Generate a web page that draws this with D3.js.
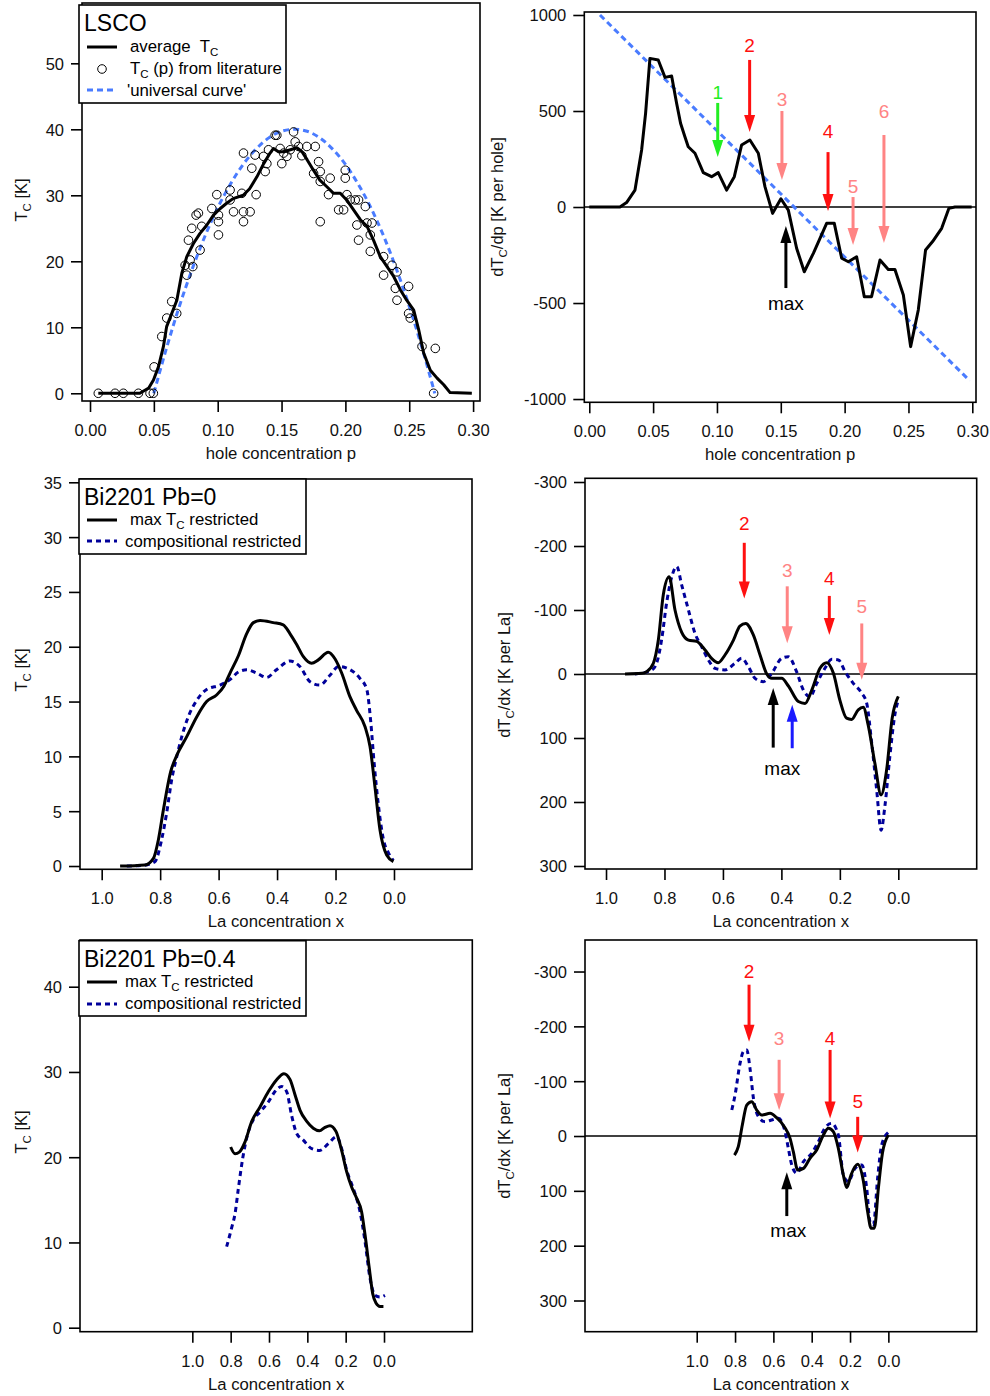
<!DOCTYPE html>
<html>
<head>
<meta charset="utf-8">
<script src="https://cdn.jsdelivr.net/npm/d3@7"></script>
<style>
body { margin: 0; background: #fff; }
svg { display: block; font-family: "Liberation Sans", Arial, sans-serif; }
</style>
</head>
<body>
<script>
// ---- LSCO: Tc(p) and dTc/dp ----
var lscoAverage = [[0.0065,0],[0.039,0],[0.046,0.8],[0.0497,2],[0.0536,4],[0.0575,7.1],[0.060,10.1],[0.064,12.1],[0.068,14.1],[0.0719,18.2],[0.0758,20.7],[0.081,22.7],[0.086,24.2],[0.0915,25.5],[0.0967,27],[0.102,28],[0.107,28.8],[0.112,29.5],[0.120,30],[0.125,31],[0.1307,32.8],[0.136,34.8],[0.141,36.4],[0.1437,37.1],[0.1476,36.6],[0.1516,36.6],[0.157,36.9],[0.162,37.2],[0.166,36.6],[0.170,35.4],[0.175,33.8],[0.180,32.3],[0.1855,31.3],[0.1907,30.3],[0.196,30.3],[0.201,29.3],[0.2064,27.8],[0.2117,26.3],[0.217,25.3],[0.222,23.2],[0.2273,20.7],[0.2326,19.2],[0.2378,17.7],[0.243,15.7],[0.248,14.1],[0.2535,12.6],[0.2574,9.6],[0.2613,6.1],[0.2665,3.5],[0.2718,2.3],[0.277,1.3],[0.282,0.1],[0.299,0]];

var lscoLiterature = [[0.0065,0],[0.0196,0],[0.0261,0],[0.0379,0],[0.0470,0],[0.0496,0],[0.0502,4.0],[0.0562,8.6],[0.0601,11.4],[0.0640,13.9],[0.0679,12.1],[0.0745,19.4],[0.0758,17.9],[0.0784,20.2],[0.0805,19.2],[0.0771,23.2],[0.0797,25.0],[0.0831,27.0],[0.0849,27.3],[0.0862,21.7],[0.0875,25.3],[0.0954,28.0],[0.0993,30.1],[0.1006,27.0],[0.1006,26.0],[0.1006,24.0],[0.1097,30.8],[0.1097,29.3],[0.1124,27.5],[0.1189,30.3],[0.1202,36.4],[0.1202,26.0],[0.1202,27.5],[0.1254,27.5],[0.1267,34.1],[0.1293,36.1],[0.1301,30.1],[0.1359,35.9],[0.1372,33.6],[0.1385,34.8],[0.1398,36.9],[0.1450,39.1],[0.1463,39.1],[0.1489,37.1],[0.1502,34.8],[0.1516,36.4],[0.1542,35.9],[0.1568,36.9],[0.1594,39.6],[0.1607,38.1],[0.1633,37.4],[0.1659,36.0],[0.1698,37.4],[0.1764,37.4],[0.1751,33.3],[0.1790,35.1],[0.1803,33.6],[0.1803,32.1],[0.1803,26.0],[0.1881,32.6],[0.1868,30.1],[0.1947,27.8],[0.1986,27.8],[0.1999,33.8],[0.1999,32.6],[0.2012,30.1],[0.2038,29.3],[0.2077,29.3],[0.2103,29.3],[0.2090,25.5],[0.2103,23.2],[0.2156,28.3],[0.2169,25.8],[0.2195,24.0],[0.2208,25.8],[0.2195,21.5],[0.2299,20.7],[0.2299,17.9],[0.2365,19.4],[0.2391,15.9],[0.2404,18.4],[0.2404,14.1],[0.2495,16.2],[0.2495,12.1],[0.2508,11.4],[0.2600,7.1],[0.2704,6.8],[0.2691,0]];

var lscoUniversal = [[0.05,0],[0.06,6.9],[0.07,13.2],[0.08,18.8],[0.09,23.8],[0.10,28.1],[0.11,31.7],[0.12,34.7],[0.13,37.0],[0.14,38.7],[0.15,39.7],[0.16,40],[0.17,39.7],[0.18,38.7],[0.19,37.0],[0.20,34.7],[0.21,31.7],[0.22,28.1],[0.23,23.8],[0.24,18.8],[0.25,13.2],[0.26,6.9],[0.27,0]];

var lscoSlope = [[0.0,0],[0.024,0],[0.0292,23],[0.0358,88],[0.041,297],[0.0441,488],[0.0475,774],[0.054,766],[0.0593,675],[0.0645,682],[0.0684,540],[0.0715,436],[0.0749,366],[0.0775,314],[0.0828,280],[0.0893,179],[0.0958,158],[0.101,179],[0.1076,88],[0.1136,158],[0.1193,323],[0.1258,349],[0.1324,280],[0.1376,106],[0.1436,-33],[0.1501,43],[0.1559,-16],[0.1624,-215],[0.1684,-337],[0.1755,-241],[0.1807,-163],[0.1859,-85],[0.1919,-85],[0.1977,-267],[0.2029,-285],[0.2094,-259],[0.2154,-467],[0.2211,-467],[0.2277,-276],[0.2342,-325],[0.2394,-325],[0.246,-458],[0.2517,-727],[0.2577,-536],[0.2634,-224],[0.2689,-180],[0.276,-111],[0.2817,-7],[0.2864,0],[0.2995,0]];

var lscoUniversalSlope = [[0.0084,1000],[0.298,-905]];

// markers: label, x, label y, arrow tail y, arrow head y (data units)
var lscoMarkers = [
  {text: "1", kind: "first", x: 0.1006, ty: 562, y0: 542, y1: 260},
  {text: "2", kind: "strong", x: 0.1256, ty: 807, y0: 766, y1: 391},
  {text: "3", kind: "weak", x: 0.1509, ty: 526, y0: 500, y1: 141},
  {text: "4", kind: "strong", x: 0.1870, ty: 359, y0: 286, y1: -21},
  {text: "5", kind: "weak", x: 0.2066, ty: 73, y0: 52, y1: -198},
  {text: "6", kind: "weak", x: 0.2308, ty: 464, y0: 375, y1: -188},
  {text: "max", kind: "max", x: 0.1540, ty: -536, y0: -422, y1: -99}
];

// ---- Bi2201 Pb=0 ----
var bi0TcMax = [[0.937,0],[0.852,0.1],[0.823,0.7],[0.806,2.4],[0.789,5.1],[0.764,8.6],[0.743,10.1],[0.709,11.8],[0.675,13.6],[0.641,15.0],[0.607,15.6],[0.582,16.4],[0.561,17.6],[0.532,19.2],[0.504,21.2],[0.481,22.2],[0.458,22.4],[0.413,22.2],[0.379,22.0],[0.356,21.2],[0.333,20.2],[0.310,19.1],[0.282,18.5],[0.259,18.8],[0.225,19.5],[0.202,18.9],[0.179,17.6],[0.150,15.4],[0.128,14.2],[0.099,12.7],[0.082,10.9],[0.065,7.2],[0.048,3.3],[0.025,1.0],[0.002,0.4]];

var bi0TcComp = [[0.914,0],[0.857,0.06],[0.818,0.4],[0.795,2.4],[0.778,4.8],[0.761,7.8],[0.743,10.0],[0.726,11.8],[0.704,13.6],[0.675,15.1],[0.641,16.1],[0.595,16.5],[0.561,17.0],[0.532,17.7],[0.504,17.9],[0.470,17.6],[0.436,17.2],[0.402,17.9],[0.356,18.7],[0.322,18.2],[0.287,16.8],[0.253,16.5],[0.219,17.4],[0.190,18.2],[0.150,17.9],[0.116,17.1],[0.093,16.1],[0.080,13.3],[0.068,9.4],[0.054,5.7],[0.036,2.4],[0.019,1.2],[0.002,0.5]];

var bi0SlopeMax = [[0.935,0],[0.878,-1],[0.861,-3.6],[0.838,-16.7],[0.821,-53],[0.804,-124],[0.784,-152],[0.764,-100],[0.741,-65],[0.718,-53],[0.690,-51],[0.661,-37.5],[0.639,-24.5],[0.616,-17.7],[0.593,-29.7],[0.564,-53],[0.542,-75],[0.522,-79],[0.496,-61],[0.473,-29.7],[0.450,0],[0.433,6.8],[0.399,6.8],[0.376,18.8],[0.342,43],[0.319,46],[0.296,25],[0.268,-8.9],[0.245,-17.7],[0.222,-1],[0.200,40.7],[0.177,69],[0.160,71],[0.137,56],[0.120,52],[0.103,80],[0.080,140],[0.059,189],[0.040,150],[0.021,69],[0.0,35]];

var bi0SlopeComp = [[0.901,0],[0.844,-6],[0.827,-16.7],[0.810,-53],[0.792,-113],[0.775,-152],[0.758,-168],[0.741,-139],[0.718,-100],[0.696,-64],[0.673,-43],[0.650,-22],[0.627,-8.9],[0.593,-6.3],[0.559,-16.7],[0.536,-24.5],[0.513,-11.5],[0.490,6.8],[0.462,12],[0.433,-1],[0.399,-24.5],[0.376,-27],[0.348,-3.6],[0.325,25],[0.302,35.5],[0.279,14.6],[0.251,-8.9],[0.228,-23],[0.205,-22],[0.182,-3.6],[0.154,14.6],[0.125,30],[0.108,46],[0.091,108],[0.074,181],[0.059,244],[0.046,207],[0.029,129],[0.011,61.5],[0.0,40.7]];

var bi0Markers = [
  {text: "2", kind: "strong", x: 0.527, ty: -225, y0: -205, y1: -118},
  {text: "3", kind: "weak", x: 0.380, ty: -152, y0: -137, y1: -48},
  {text: "4", kind: "strong", x: 0.236, ty: -139, y0: -122, y1: -61},
  {text: "5", kind: "weak", x: 0.125, ty: -95, y0: -79, y1: 9},
  {text: "", kind: "max", x: 0.428, ty: 0, y0: 115, y1: 22},
  {text: "", kind: "maxComp", x: 0.363, ty: 0, y0: 116, y1: 48},
  {text: "max", kind: "max", x: 0.397, ty: 158, y0: null, y1: null}
];

// ---- Bi2201 Pb=0.4 ----
var bi4TcMax = [[0.800,21.2],[0.777,20.4],[0.755,20.6],[0.725,21.8],[0.690,24.2],[0.647,25.9],[0.603,27.7],[0.560,29.1],[0.522,29.8],[0.490,29.1],[0.464,27.3],[0.438,25.5],[0.403,24.2],[0.369,23.4],[0.337,23.1],[0.308,23.5],[0.282,23.7],[0.250,23.0],[0.221,20.8],[0.195,18.3],[0.169,16.5],[0.143,15.2],[0.117,13.6],[0.099,10.9],[0.077,7.0],[0.059,4.0],[0.042,2.9],[0.021,2.5],[0.003,2.5]];

var bi4TcComp = [[0.821,9.5],[0.795,11.7],[0.777,13.4],[0.760,16.3],[0.737,19.9],[0.717,22.2],[0.682,24.4],[0.647,25.3],[0.603,26.5],[0.569,27.7],[0.534,28.3],[0.508,27.7],[0.482,24.9],[0.456,22.8],[0.421,22.0],[0.377,21.0],[0.334,20.8],[0.290,21.6],[0.247,22.4],[0.221,21.0],[0.195,18.5],[0.160,16.3],[0.125,13.6],[0.099,10.1],[0.073,5.8],[0.047,3.8],[0.021,3.6],[-0.005,3.8]];

var bi4SlopeMax = [[0.803,34.7],[0.783,19.5],[0.762,-20],[0.739,-56.5],[0.713,-62.6],[0.687,-47.4],[0.661,-38.3],[0.617,-41.3],[0.583,-33.4],[0.543,-17],[0.513,4.3],[0.496,28.6],[0.473,62],[0.443,59],[0.409,40.7],[0.374,25.5],[0.339,-1.8],[0.313,-14],[0.287,-7.9],[0.261,22.5],[0.235,71],[0.217,94],[0.195,71],[0.160,51.7],[0.130,83],[0.108,138],[0.090,168],[0.073,168],[0.052,95],[0.031,31.6],[0.0,-1.8]];

var bi4SlopeComp = [[0.817,-47.4],[0.800,-74.8],[0.774,-132.5],[0.757,-153.8],[0.739,-156.8],[0.722,-123.4],[0.704,-68.7],[0.678,-35.3],[0.643,-26.1],[0.609,-29.2],[0.574,-32.2],[0.539,-7.9],[0.522,22.5],[0.504,52.9],[0.478,68],[0.443,46.8],[0.400,31.6],[0.365,10.3],[0.330,-15.2],[0.296,-23.1],[0.261,-1.8],[0.235,71],[0.209,83],[0.174,59],[0.139,52.9],[0.113,95.4],[0.096,156],[0.078,162],[0.056,77],[0.035,16.4],[0.0,-6.7]];

var bi4Markers = [
  {text: "2", kind: "strong", x: 0.727, ty: -288, y0: -276, y1: -172},
  {text: "3", kind: "weak", x: 0.570, ty: -166, y0: -139, y1: -47},
  {text: "4", kind: "strong", x: 0.304, ty: -166, y0: -157, y1: -32},
  {text: "5", kind: "strong", x: 0.160, ty: -51, y0: -35, y1: 30},
  {text: "", kind: "max", x: 0.530, ty: 0, y0: 146, y1: 66},
  {text: "max", kind: "max", x: 0.522, ty: 184, y0: null, y1: null}
];

var xTicksP = [0, 0.05, 0.10, 0.15, 0.20, 0.25, 0.30];
var xTicksLa = [1.0, 0.8, 0.6, 0.4, 0.2, 0.0];

var markerColor = {first: "#22ee22", strong: "#ff1010", weak: "#ff8484", max: "#000", maxComp: "#1a1aff"};
var blueLight = "#4a7cff", navy = "#00009a";

var svg = d3.select("body").append("svg").attr("width", 990).attr("height", 1396);

// text with subscript pieces: [string, isSub]
function richText(sel, parts) {
    parts.forEach(function(p, i) {
        var t = sel.append("tspan").text(p[0]);
        if (p[1]) t.attr("font-size", "11.5px").attr("dy", 4);
        else if (i > 0 && parts[i - 1][1]) t.attr("dy", -4);
    });
}

function makePanel(cfg) {
    var x = d3.scaleLinear().domain(cfg.xDomain).range([cfg.left, cfg.right]);
    var y = d3.scaleLinear().domain(cfg.yDomain).range([cfg.bottom, cfg.top]);
    var g = svg.append("g");

    g.append("rect")
        .attr("x", cfg.left).attr("y", cfg.top)
        .attr("width", cfg.right - cfg.left).attr("height", cfg.bottom - cfg.top)
        .attr("fill", "none").attr("stroke", "#000").attr("stroke-width", 1.6);

    var gx = g.append("g").attr("transform", "translate(0," + cfg.bottom + ")")
        .call(d3.axisBottom(x).tickValues(cfg.xTicks).tickFormat(d3.format(cfg.xFormat)).tickSizeInner(11).tickSizeOuter(0));
    gx.select(".domain").remove();
    gx.selectAll("line").attr("stroke-width", 1.6);
    gx.selectAll("text").attr("y", 35).attr("dy", null)
        .style("font-size", "16.5px").style("font-family", "Liberation Sans, Arial, sans-serif").attr("fill", "#111");

    var gy = g.append("g").attr("transform", "translate(" + cfg.left + ",0)")
        .call(d3.axisLeft(y).tickValues(cfg.yTicks).tickFormat(function(d) { return String(d); }).tickSizeInner(11).tickSizeOuter(0));
    gy.select(".domain").remove();
    gy.selectAll("line").attr("stroke-width", 1.6);
    gy.selectAll("text").attr("x", -18).attr("dy", "0.36em")
        .style("font-size", "16.5px").style("font-family", "Liberation Sans, Arial, sans-serif").attr("fill", "#111");

    g.append("text")
        .attr("x", (cfg.left + cfg.right) / 2).attr("y", cfg.bottom + 58)
        .attr("text-anchor", "middle").style("font-size", "16.7px").attr("fill", "#111")
        .text(cfg.xTitle);

    var yl = g.append("text")
        .attr("transform", "translate(" + cfg.yTitleX + "," + cfg.yTitleY + ") rotate(-90)")
        .attr("text-anchor", "middle").style("font-size", "16.5px").attr("fill", "#111");
    richText(yl, cfg.yTitle);

    if (cfg.zeroLine) {
        g.append("line").attr("x1", cfg.left).attr("x2", cfg.right)
            .attr("y1", y(0)).attr("y2", y(0)).attr("stroke", "#000").attr("stroke-width", 1.5);
    }
    return {g: g, x: x, y: y};
}

function drawLine(p, data, color, dash, curve) {
    var line = d3.line().x(function(d) { return p.x(d[0]); }).y(function(d) { return p.y(d[1]); })
        .curve(curve || d3.curveLinear);
    p.g.append("path").datum(data).attr("d", line)
        .attr("fill", "none").attr("stroke", color).attr("stroke-width", 3)
        .attr("stroke-linejoin", "round")
        .attr("stroke-dasharray", dash || null);
}

function drawMarkers(p, markers) {
    markers.forEach(function(m) {
        var c = markerColor[m.kind];
        var mx = p.x(m.x);
        if (m.y0 !== null) {
            var ya = p.y(m.y0), yb = p.y(m.y1);
            var dir = yb > ya ? 1 : -1, headLen = 17, headW = 5.5;
            p.g.append("line").attr("x1", mx).attr("x2", mx)
                .attr("y1", ya).attr("y2", yb - dir * headLen + dir * 1)
                .attr("stroke", c).attr("stroke-width", 3);
            p.g.append("path")
                .attr("d", "M" + (mx - headW) + "," + (yb - dir * headLen) + "L" + (mx + headW) + "," + (yb - dir * headLen) + "L" + mx + "," + yb + "Z")
                .attr("fill", c);
        }
        if (m.text) {
            p.g.append("text").attr("x", mx).attr("y", p.y(m.ty))
                .attr("text-anchor", "middle").style("font-size", "19px").attr("fill", c)
                .text(m.text);
        }
    });
}

function drawLegend(p, box, title, entries) {
    var lg = p.g.append("g");
    lg.append("rect").attr("x", box.x).attr("y", box.y).attr("width", box.w).attr("height", box.h)
        .attr("fill", "#fff").attr("stroke", "#000").attr("stroke-width", 1.6);
    lg.append("text").attr("x", box.x + 5).attr("y", box.titleY)
        .style("font-size", "23px").attr("fill", "#000").text(title);
    entries.forEach(function(e) {
        if (e.symbol === "circle") {
            lg.append("circle").attr("cx", box.x + 23).attr("cy", e.sy).attr("r", 4.3)
                .attr("fill", "none").attr("stroke", "#000").attr("stroke-width", 1);
        } else {
            lg.append("line").attr("x1", box.x + 8).attr("x2", box.x + 38)
                .attr("y1", e.sy).attr("y2", e.sy)
                .attr("stroke", e.color).attr("stroke-width", 3)
                .attr("stroke-dasharray", e.dash || null);
        }
        var t = lg.append("text").attr("x", e.tx).attr("y", e.ty)
            .style("font-size", "16.8px").attr("fill", "#000");
        richText(t, e.parts);
    });
}

// Panel 1: LSCO Tc
var p1 = makePanel({
    left: 82, right: 480, top: 3, bottom: 401,
    xDomain: [-0.00627, 0.30541], yDomain: [-1.17, 59.14],
    xTicks: xTicksP, xFormat: ".2f", yTicks: [0, 10, 20, 30, 40, 50],
    xTitle: "hole concentration p", yTitle: [["T", false], ["C", true], [" [K]", false]],
    yTitleX: 27, yTitleY: 200
});
drawLine(p1, lscoUniversal, blueLight, "6,4", d3.curveMonotoneX);
drawLine(p1, lscoAverage, "#000", null);
p1.g.append("g").selectAll("circle").data(lscoLiterature).join("circle")
    .attr("cx", function(d) { return p1.x(d[0]); }).attr("cy", function(d) { return p1.y(d[1]); })
    .attr("r", 4.3).attr("fill", "none").attr("stroke", "#000").attr("stroke-width", 1);
drawLegend(p1, {x: 79, y: 5, w: 207, h: 98, titleY: 31}, "LSCO", [
    {sy: 47, color: "#000", tx: 130, ty: 52, parts: [["average\u00a0 T", false], ["C", true]]},
    {sy: 69, symbol: "circle", tx: 130, ty: 74, parts: [["T", false], ["C", true], [" (p) from literature", false]]},
    {sy: 90, color: blueLight, dash: "6,4", tx: 127, ty: 96, parts: [["'universal curve'", false]]}
]);

// Panel 2: LSCO dTc/dp
var p2 = makePanel({
    left: 584.3, right: 976, top: 12, bottom: 402.3,
    xDomain: [-0.0039, 0.3029], yDomain: [-1017, 1015.6],
    xTicks: xTicksP, xFormat: ".2f", yTicks: [-1000, -500, 0, 500, 1000],
    xTitle: "hole concentration p", yTitle: [["dT", false], ["C", true], ["/dp [K per hole]", false]],
    yTitleX: 503, yTitleY: 207, zeroLine: true
});
drawLine(p2, lscoUniversalSlope, blueLight, "6,4");
drawLine(p2, lscoSlope, "#000", null);
drawMarkers(p2, lscoMarkers);

// Panel 3: Bi2201 Pb=0 Tc
var p3 = makePanel({
    left: 80, right: 472, top: 479, bottom: 869.3,
    xDomain: [1.0742, -0.2669], yDomain: [-0.30, 35.3],
    xTicks: xTicksLa, xFormat: ".1f", yTicks: [0, 5, 10, 15, 20, 25, 30, 35],
    xTitle: "La concentration x", yTitle: [["T", false], ["C", true], [" [K]", false]],
    yTitleX: 27, yTitleY: 670
});
drawLine(p3, bi0TcComp, navy, "5,4", d3.curveMonotoneX);
drawLine(p3, bi0TcMax, "#000", null, d3.curveMonotoneX);
drawLegend(p3, {x: 79, y: 479, w: 227, h: 75, titleY: 505}, "Bi2201 Pb=0", [
    {sy: 520, color: "#000", tx: 130, ty: 525, parts: [["max T", false], ["C", true], [" restricted", false]]},
    {sy: 541, color: navy, dash: "5,4", tx: 125, ty: 547, parts: [["compositional restricted", false]]}
]);

// Panel 4: Bi2201 Pb=0 dTc/dx
var p4 = makePanel({
    left: 585, right: 976.7, top: 478.3, bottom: 869,
    xDomain: [1.0719, -0.2682], yDomain: [304.7, -305.8],
    xTicks: xTicksLa, xFormat: ".1f", yTicks: [-300, -200, -100, 0, 100, 200, 300],
    xTitle: "La concentration x", yTitle: [["dT", false], ["C", true], ["/dx [K per La]", false]],
    yTitleX: 510, yTitleY: 675, zeroLine: true
});
drawLine(p4, bi0SlopeComp, navy, "5,4", d3.curveMonotoneX);
drawLine(p4, bi0SlopeMax, "#000", null, d3.curveMonotoneX);
drawMarkers(p4, bi0Markers);

// Panel 5: Bi2201 Pb=0.4 Tc
var p5 = makePanel({
    left: 80, right: 472.3, top: 940, bottom: 1331.7,
    xDomain: [1.586, -0.4606], yDomain: [-0.47, 45.48],
    xTicks: xTicksLa, xFormat: ".1f", yTicks: [0, 10, 20, 30, 40],
    xTitle: "La concentration x", yTitle: [["T", false], ["C", true], [" [K]", false]],
    yTitleX: 27, yTitleY: 1132
});
drawLine(p5, bi4TcComp, navy, "5,4", d3.curveMonotoneX);
drawLine(p5, bi4TcMax, "#000", null, d3.curveMonotoneX);
drawLegend(p5, {x: 79, y: 940.7, w: 227, h: 75.3, titleY: 967}, "Bi2201 Pb=0.4", [
    {sy: 982, color: "#000", tx: 125, ty: 987, parts: [["max T", false], ["C", true], [" restricted", false]]},
    {sy: 1004, color: navy, dash: "5,4", tx: 125, ty: 1009, parts: [["compositional restricted", false]]}
]);

// Panel 6: Bi2201 Pb=0.4 dTc/dx
var p6 = makePanel({
    left: 585, right: 976.7, top: 940, bottom: 1331.7,
    xDomain: [1.583, -0.461], yDomain: [356.9, -357.5],
    xTicks: xTicksLa, xFormat: ".1f", yTicks: [-300, -200, -100, 0, 100, 200, 300],
    xTitle: "La concentration x", yTitle: [["dT", false], ["C", true], ["/dx [K per La]", false]],
    yTitleX: 510, yTitleY: 1136, zeroLine: true
});
drawLine(p6, bi4SlopeComp, navy, "5,4", d3.curveMonotoneX);
drawLine(p6, bi4SlopeMax, "#000", null, d3.curveMonotoneX);
drawMarkers(p6, bi4Markers);
</script>
</body>
</html>
